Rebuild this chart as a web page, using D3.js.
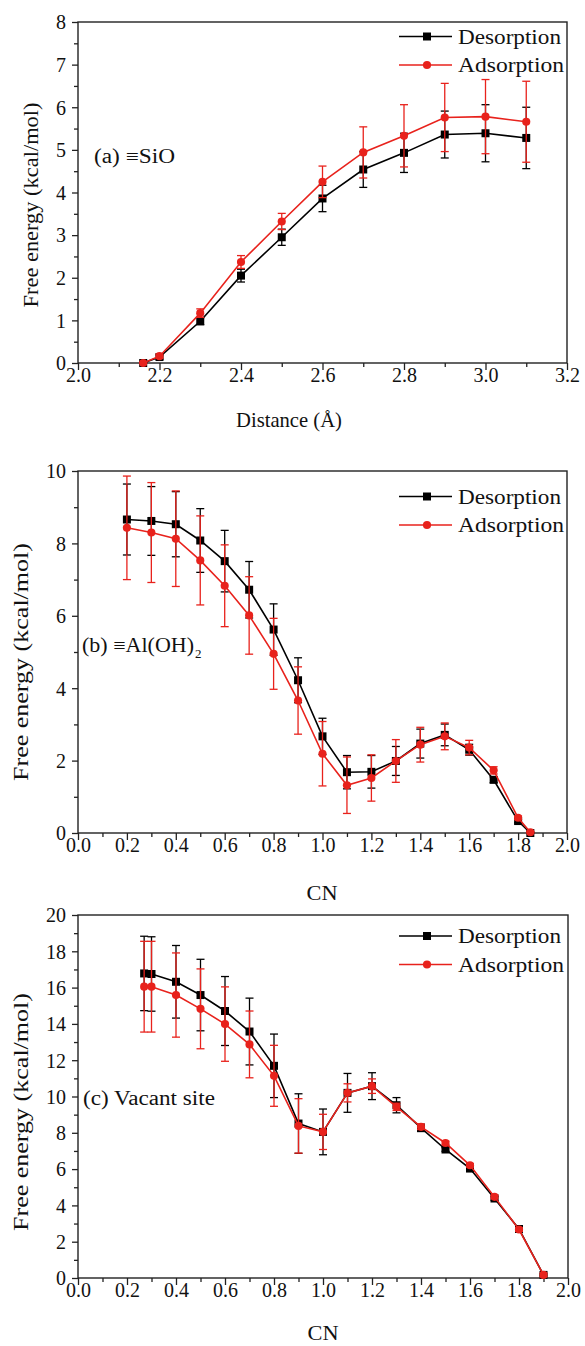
<!DOCTYPE html>
<html><head><meta charset="utf-8">
<script src="https://cdn.jsdelivr.net/npm/d3@7"></script>
<style>
body{margin:0;background:#fff}
svg{display:block}
</style>
</head><body>
<svg id="chart" width="585" height="1346"></svg>
<script>
// ---------- data ----------
const seriesNames = ["Desorption", "Adsorption"];

const aX       = [2.16, 2.2, 2.3, 2.4, 2.5, 2.6, 2.7, 2.8, 2.9, 3.0, 3.1];
const aDes     = [0, 0.14, 0.98, 2.05, 2.95, 3.86, 4.54, 4.93, 5.36, 5.39, 5.28];
const aDesErr  = [0.02, 0.05, 0.08, 0.15, 0.19, 0.31, 0.42, 0.46, 0.55, 0.67, 0.72];
const aAds     = [0, 0.16, 1.17, 2.37, 3.32, 4.25, 4.94, 5.33, 5.76, 5.78, 5.66];
const aAdsErr  = [0.02, 0.05, 0.1, 0.15, 0.19, 0.37, 0.6, 0.73, 0.8, 0.87, 0.95];

const bX       = [0.2, 0.3, 0.4, 0.5, 0.6, 0.7, 0.8, 0.9, 1.0, 1.1, 1.2, 1.3, 1.4, 1.5, 1.6, 1.7, 1.8, 1.85];
const bDes     = [8.66, 8.62, 8.53, 8.08, 7.51, 6.72, 5.62, 4.22, 2.67, 1.68, 1.69, 1.99, 2.47, 2.71, 2.30, 1.47, 0.33, 0];
const bDesErr  = [0.98, 0.95, 0.9, 0.88, 0.85, 0.78, 0.71, 0.62, 0.5, 0.46, 0.45, 0.4, 0.4, 0.3, 0.15, 0.08, 0.05, 0.02];
const bAds     = [8.43, 8.30, 8.13, 7.53, 6.83, 6.01, 4.95, 3.66, 2.19, 1.32, 1.52, 1.99, 2.44, 2.67, 2.36, 1.73, 0.42, 0.02];
const bAdsErr  = [1.43, 1.38, 1.32, 1.23, 1.13, 1.07, 0.98, 0.93, 0.89, 0.78, 0.64, 0.59, 0.48, 0.37, 0.2, 0.1, 0.05, 0.02];

const cX       = [0.27, 0.3, 0.4, 0.5, 0.6, 0.7, 0.8, 0.9, 1.0, 1.1, 1.2, 1.3, 1.4, 1.5, 1.6, 1.7, 1.8, 1.9];
const cDes     = [16.78, 16.75, 16.32, 15.59, 14.71, 13.58, 11.69, 8.51, 8.05, 10.2, 10.57, 9.52, 8.27, 7.08, 6.03, 4.38, 2.7, 0.17];
const cDesErr  = [2.05, 2.05, 2.0, 1.97, 1.9, 1.84, 1.75, 1.64, 1.26, 1.07, 0.74, 0.42, 0.2, 0.1, 0.1, 0.1, 0.1, 0.05];
const cAds     = [16.05, 16.05, 15.59, 14.83, 13.99, 12.87, 11.14, 8.38, 8.05, 10.2, 10.57, 9.43, 8.33, 7.44, 6.21, 4.47, 2.67, 0.17];
const cAdsErr  = [2.5, 2.5, 2.32, 2.2, 2.05, 1.84, 1.68, 1.5, 0.97, 0.5, 0.4, 0.2, 0.15, 0.1, 0.1, 0.1, 0.1, 0.1];

const aXTicks = [2.0, 2.2, 2.4, 2.6, 2.8, 3.0, 3.2];
const aYTicks = [0, 1, 2, 3, 4, 5, 6, 7, 8];
const bXTicks = [0.0, 0.2, 0.4, 0.6, 0.8, 1.0, 1.2, 1.4, 1.6, 1.8, 2.0];
const bYTicks = [0, 2, 4, 6, 8, 10];
const cXTicks = [0.0, 0.2, 0.4, 0.6, 0.8, 1.0, 1.2, 1.4, 1.6, 1.8, 2.0];
const cYTicks = [0, 2, 4, 6, 8, 10, 12, 14, 16, 18, 20];

const yTitle = "Free energy (kcal/mol)";

// ---------- layout ----------
const FONT = "'Liberation Serif', 'Times New Roman', Times, serif";
const COL = {Desorption: "#000000", Adsorption: "#e8221c"};
const svg = d3.select("#chart");

const panels = [
  {left:78, right:567, top:22, bottom:363, xd:[2.0,3.2], yd:[0,8],
   xt:aXTicks, xminor:0.1, yt:aYTicks, yminor:0.5, xfmt:d3.format(".1f"),
   x:aX, des:aDes, desE:aDesErr, ads:aAds, adsE:aAdsErr,
   xTitle:"Distance (Å)", xTitleX:289, xTitleLen:106, xTitleY:427,
   yTitleX:38, yTitleY:205, yTitleLen:205, yTitleSize:21,
   legY:36.5, label:"(a) ≡SiO", labX:94, labY:163, labLen:81},
  {left:78, right:567, top:471, bottom:833, xd:[0,2], yd:[0,10],
   xt:bXTicks, xminor:0.1, yt:bYTicks, yminor:1, xfmt:d3.format(".1f"),
   x:bX, des:bDes, desE:bDesErr, ads:bAds, adsE:bAdsErr,
   xTitle:"CN", xTitleX:322, xTitleLen:31, xTitleY:900,
   yTitleX:28, yTitleY:662, yTitleLen:238, yTitleSize:20,
   legY:496.5, label:"(b) ≡Al(OH)", labX:82, labY:652, labLen:112, sub:"2"},
  {left:78, right:568, top:915, bottom:1278, xd:[0,2], yd:[0,20],
   xt:cXTicks, xminor:0.1, yt:cYTicks, yminor:1, xfmt:d3.format(".1f"),
   x:cX, des:cDes, desE:cDesErr, ads:cAds, adsE:cAdsErr,
   xTitle:"CN", xTitleX:323, xTitleLen:31, xTitleY:1340,
   yTitleX:28, yTitleY:1112, yTitleLen:238, yTitleSize:20,
   legY:936, label:"(c) Vacant site", labX:83, labY:1105, labLen:132}
];

function range(a, b, s){ const out=[]; for(let v=a; v<=b+1e-9; v+=s) out.push(+v.toFixed(6)); return out; }

panels.forEach(p => {
  const x = d3.scaleLinear().domain(p.xd).range([p.left, p.right]);
  const y = d3.scaleLinear().domain(p.yd).range([p.bottom, p.top]);
  const g = svg.append("g");

  const xMinor = range(p.xd[0], p.xd[1], p.xminor).filter(v => !p.xt.some(t => Math.abs(t-v)<1e-6));
  const yMinor = range(p.yd[0], p.yd[1], p.yminor).filter(v => !p.yt.some(t => Math.abs(t-v)<1e-6));

  const gxm = g.append("g").attr("transform", `translate(0,${p.bottom})`)
    .call(d3.axisBottom(x).tickValues(xMinor).tickSize(4).tickFormat(""));
  const gx = g.append("g").attr("transform", `translate(0,${p.bottom})`)
    .call(d3.axisBottom(x).tickValues(p.xt).tickSize(7).tickFormat(p.xfmt));
  const gym = g.append("g").attr("transform", `translate(${p.left},0)`)
    .call(d3.axisLeft(y).tickValues(yMinor).tickSize(4).tickFormat(""));
  const gy = g.append("g").attr("transform", `translate(${p.left},0)`)
    .call(d3.axisLeft(y).tickValues(p.yt).tickSize(6).tickFormat(d3.format("d")));

  [gxm, gx, gym, gy].forEach(a => {
    a.attr("font-family", FONT);
    a.select(".domain").remove();
    a.selectAll("line").attr("stroke", "#222").attr("stroke-width", 1.3);
  });
  gx.selectAll("text").attr("y", 19).attr("dy", 0)
    .style("font-family", FONT).style("font-size", "20px").attr("fill", "#111");
  gy.selectAll("text").attr("x", -12).attr("dy", "0.34em")
    .style("font-family", FONT).style("font-size", "20px").attr("fill", "#111");

  g.append("rect").attr("x", p.left).attr("y", p.top)
    .attr("width", p.right - p.left).attr("height", p.bottom - p.top)
    .attr("fill", "none").attr("stroke", "#222").attr("stroke-width", 1.4);

  const T = (sel) => sel.style("font-family", FONT).attr("fill", "#111");

  T(g.append("text")).attr("x", p.xTitleX).attr("y", p.xTitleY)
    .attr("text-anchor", "middle").style("font-size", "21px")
    .attr("textLength", p.xTitleLen).attr("lengthAdjust", "spacingAndGlyphs")
    .text(p.xTitle);
  T(g.append("text")).attr("transform", `translate(${p.yTitleX},${p.yTitleY}) rotate(-90)`)
    .attr("text-anchor", "middle").style("font-size", p.yTitleSize + "px")
    .attr("textLength", p.yTitleLen).attr("lengthAdjust", "spacingAndGlyphs")
    .text(yTitle);

  T(g.append("text")).attr("x", p.labX).attr("y", p.labY)
    .style("font-size", "20px")
    .attr("textLength", p.labLen).attr("lengthAdjust", "spacingAndGlyphs")
    .text(p.label);
  if (p.sub) {
    T(g.append("text")).attr("x", p.labX + p.labLen + 1).attr("y", p.labY + 6)
      .style("font-size", "13px").text(p.sub);
  }

  const series = [
    {name: seriesNames[0], vals: p.des, err: p.desE, sym: "square"},
    {name: seriesNames[1], vals: p.ads, err: p.adsE, sym: "circle"}
  ];
  const line = d3.line().x(d => x(d.x)).y(d => y(d.v));
  series.forEach(s => {
    const pts = p.x.map((xv, i) => ({x: xv, v: s.vals[i], e: s.err[i]}));
    const c = COL[s.name];
    const eg = g.append("g").attr("stroke", c).attr("stroke-width", 1.3);
    pts.forEach(d => {
      const cx = x(d.x), y1 = y(d.v + d.e), y2 = y(Math.max(0, d.v - d.e));
      eg.append("line").attr("x1", cx).attr("x2", cx).attr("y1", y1).attr("y2", y2);
      eg.append("line").attr("x1", cx-4).attr("x2", cx+4).attr("y1", y1).attr("y2", y1);
      eg.append("line").attr("x1", cx-4).attr("x2", cx+4).attr("y1", y2).attr("y2", y2);
    });
    g.append("path").datum(pts).attr("d", line).attr("fill", "none")
      .attr("stroke", c).attr("stroke-width", 1.6);
    const sym = d3.symbol().type(s.sym === "square" ? d3.symbolSquare : d3.symbolCircle)
      .size(s.sym === "square" ? 64 : 52);
    g.selectAll(null).data(pts).enter().append("path")
      .attr("d", sym).attr("transform", d => `translate(${x(d.x)},${y(d.v)})`)
      .attr("fill", c);
  });

  series.forEach((s, i) => {
    const ly = p.legY + i * 28.5;
    const c = COL[s.name];
    g.append("line").attr("x1", 399).attr("x2", 452).attr("y1", ly).attr("y2", ly)
      .attr("stroke", c).attr("stroke-width", 1.6);
    const sym = d3.symbol().type(s.sym === "square" ? d3.symbolSquare : d3.symbolCircle)
      .size(s.sym === "square" ? 64 : 52);
    g.append("path").attr("d", sym).attr("transform", `translate(427,${ly})`).attr("fill", c);
    T(g.append("text")).attr("x", 458).attr("y", ly + 7).style("font-size", "20px")
      .attr("textLength", i === 0 ? 103 : 106).attr("lengthAdjust", "spacingAndGlyphs")
      .text(s.name);
  });
});
</script>
</body></html>
